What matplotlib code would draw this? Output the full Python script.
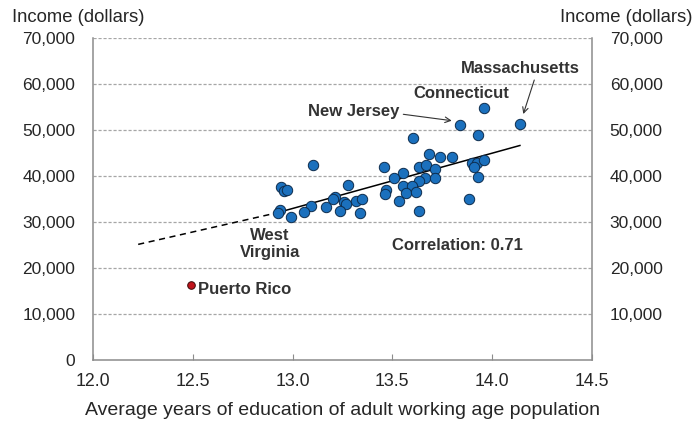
import matplotlib
matplotlib.use("Agg")
import matplotlib.pyplot as plt

plt.rcParams['font.family'] = ['Liberation Sans', 'DejaVu Sans']

# --- data ---
state_x = [13.96, 14.14, 13.84, 13.93, 13.605, 13.10, 13.685, 13.74, 13.80, 13.90,
           13.925, 13.91, 13.96, 13.93, 13.885, 13.46, 13.635, 13.67, 13.715, 13.555,
           13.51, 13.665, 13.715, 13.635, 13.555, 13.60, 13.47, 13.465, 13.57, 13.62,
           13.535, 13.635, 13.28, 12.94, 12.955, 12.97, 13.21, 13.20, 13.26, 13.27,
           13.32, 13.35, 13.09, 13.165, 13.055, 13.235, 13.34, 12.99, 12.935, 12.925]
state_y = [54800, 51300, 51150, 49000, 48400, 42500, 44850, 44150, 44150, 42800,
           42800, 42100, 43550, 39900, 35050, 41950, 41950, 42450, 41600, 40650,
           39550, 39700, 39550, 38950, 37950, 37950, 37000, 36150, 36300, 36650,
           34700, 32450, 38100, 37600, 36900, 36950, 35450, 35050, 34500, 33900,
           34700, 35000, 33550, 33250, 32300, 32450, 31950, 31100, 32650, 31950]

pr_x = [12.488]
pr_y = [16370]

trend_x = [12.92, 14.14]
trend_y = [32050, 46700]
extrap_x = [12.225, 12.92]
extrap_y = [25200, 32050]

y_ticks = [0, 10000, 20000, 30000, 40000, 50000, 60000, 70000]
x_ticks = [12.0, 12.5, 13.0, 13.5, 14.0, 14.5]

TXT = '#262626'
SPINE = '#8c8c8c'

fig = plt.figure(figsize=(6.97, 4.21), dpi=100)
ax = fig.add_axes([0.1339, 0.1442, 0.715, 0.7648])

ax.set_xlim(12.0, 14.5)
ax.set_ylim(0, 70000)

# gridlines
for yv in y_ticks[1:]:
    ax.axhline(yv, color='#a6a6a6', lw=0.9, ls=(0, (2.5, 1.5)), zorder=1)

ax.plot(extrap_x, extrap_y, color='black', lw=1.1, ls=(0, (4, 3)), zorder=2)
ax.plot(trend_x, trend_y, color='black', lw=1.1, zorder=2)

ax.scatter(state_x, state_y, s=56, color='#1b70bd', edgecolor='#0d2c4d',
           linewidth=0.7, zorder=3)
ax.scatter(pr_x, pr_y, s=30, color='#c0141c', edgecolor='#3a0a0a',
           linewidth=0.7, zorder=3)

for side in ['left', 'bottom', 'right']:
    ax.spines[side].set_color(SPINE)
    ax.spines[side].set_linewidth(1.1)
ax.spines['top'].set_visible(False)

ax.set_xticks(x_ticks)
ax.set_xticklabels([f'{v:.1f}' for v in x_ticks])
ax.tick_params(axis='x', direction='in', length=4, color=SPINE, labelsize=12.8,
               labelcolor=TXT, pad=9)
ax.set_yticks(y_ticks)
ax.set_yticklabels([f'{v:,}' for v in y_ticks])
ax.tick_params(axis='y', length=0, labelsize=12.5, labelcolor=TXT, pad=13)

ax2 = ax.twinx()
ax2.set_ylim(0, 70000)
ax2.set_yticks(y_ticks[1:])
ax2.set_yticklabels([f'{v:,}' for v in y_ticks[1:]])
ax2.tick_params(axis='y', length=0, labelsize=12.5, labelcolor=TXT, pad=13)
for s in ax2.spines.values():
    s.set_visible(False)

ax.set_xlabel('Average years of education of adult working age population',
              fontsize=14, color=TXT, labelpad=9)

fig.text(0.017, 0.958, 'Income (dollars)', fontsize=13.3, color=TXT, va='center', ha='left')
fig.text(0.993, 0.958, 'Income (dollars)', fontsize=13.3, color=TXT, va='center', ha='right')

bold = dict(fontsize=12, fontweight='bold', color='#333333', zorder=4)
ax.text(14.142, 63540, 'Massachusetts', ha='center', va='center', **bold)
ax.text(13.844, 58040, 'Connecticut', ha='center', va='center', **bold)
ax.text(13.307, 54040, 'New Jersey', ha='center', va='center', **bold)
ax.text(12.886, 25330, 'West\nVirginia', ha='center', va='center', linespacing=1.15, **bold)
ax.text(12.527, 15430, 'Puerto Rico', ha='left', va='center', **bold)
ax.text(13.826, 24910, 'Correlation: 0.71', ha='center', va='center', **bold)

arrow = dict(arrowstyle='->', color='#333333', lw=0.8, shrinkA=0, shrinkB=0)
ax.annotate('', xy=(13.798, 52090), xytext=(13.555, 53480), arrowprops=arrow)
ax.annotate('', xy=(14.157, 53540), xytext=(14.212, 60930), arrowprops=arrow)

fig.savefig('out.png', dpi=100)
